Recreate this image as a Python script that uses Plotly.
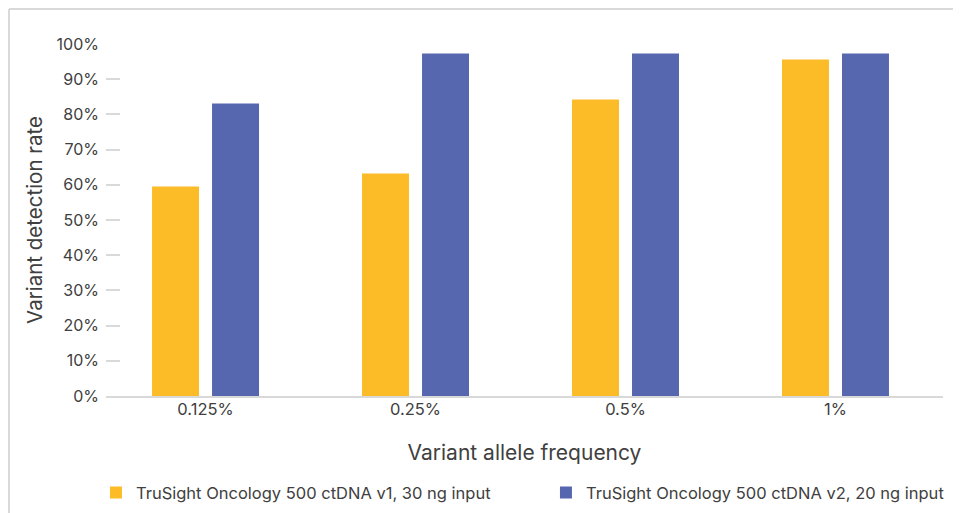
import plotly.graph_objects as go

categories = ["0.125%", "0.25%", "0.5%", "1%"]
v1_values = [0.595, 0.632, 0.842, 0.956]
v2_values = [0.831, 0.973, 0.973, 0.973]
series_names = ["TruSight Oncology 500 ctDNA v1, 30 ng input",
                "TruSight Oncology 500 ctDNA v2, 20 ng input"]
y_ticks = [i / 10 for i in range(11)]
y_ticklabels = [f"{i*10}%" for i in range(11)]

YELLOW = "#FCBC28"
BLUE = "#5767AF"
FONT = "Inter"
TXT = "#404040"

fig = go.Figure()
fig.add_trace(go.Bar(x=categories, y=v1_values, name=series_names[0],
                     marker=dict(color=YELLOW, line=dict(width=0))))
fig.add_trace(go.Bar(x=categories, y=v2_values, name=series_names[1],
                     marker=dict(color=BLUE, line=dict(width=0))))

fig.update_layout(
    width=953, height=505,
    margin=dict(l=98, r=18, t=36, b=117, autoexpand=False),
    paper_bgcolor="white", plot_bgcolor="white",
    barmode="group", bargap=0.4286, bargroupgap=0.217,
    font=dict(family=FONT, color=TXT),
    showlegend=True,
    legend=dict(orientation="h", x=-0.012, xanchor="left", y=-0.225, yanchor="top",
                font=dict(family=FONT, size=16.5, color=TXT),
                entrywidth=405, entrywidthmode="pixels",
                itemclick=False, itemdoubleclick=False,
                bgcolor="rgba(0,0,0,0)"),
    xaxis=dict(
        type="category", range=[-0.474, 3.512],
        showgrid=False, showline=True, linecolor="#D9D9D9", linewidth=1.5,
        ticks="", tickfont=dict(family=FONT, size=16.5, color=TXT),
        ticklabelstandoff=-3,
        title=dict(text="Variant allele frequency", font=dict(family=FONT, size=21, color=TXT),
                   standoff=28),
        fixedrange=True,
    ),
    yaxis=dict(
        range=[0, 1.0], tickvals=y_ticks, ticktext=y_ticklabels,
        showgrid=False, zeroline=False, showline=False,
        ticks="inside", ticklen=14, tickcolor="#D9D9D9", tickwidth=1.5,
        tickfont=dict(family=FONT, size=16, color=TXT),
        ticklabelstandoff=6,
        title=dict(text="Variant detection rate", font=dict(family=FONT, size=20.5, color=TXT),
                   standoff=8),
        fixedrange=True,
    ),
    shapes=[
        dict(type="line", xref="paper", yref="paper", x0=-0.1159, x1=1.1, y0=1.0994, y1=1.0994,
             line=dict(color="#D9D9D9", width=2)),
        dict(type="line", xref="paper", yref="paper", x0=-0.1159, x1=-0.1159, y0=1.0994, y1=-0.4,
             line=dict(color="#D9D9D9", width=2)),
    ],
)

fig.write_html("out.html")
